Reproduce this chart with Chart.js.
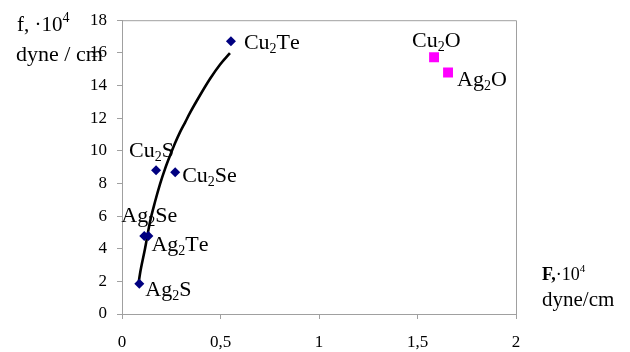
<!DOCTYPE html>
<html>
<head>
<meta charset="utf-8">
<script src="https://cdn.jsdelivr.net/npm/chart.js@4/dist/chart.umd.min.js"></script>
<style>
  html, body { margin: 0; padding: 0; background: #fff; }
  #wrap { width: 630px; height: 352px; position: relative; }
</style>
</head>
<body>
<div id="wrap"><canvas id="c" width="630" height="352"></canvas></div>
<script>
// Chalcogenide compounds: surface energy F vs. f (both ×10^4 dyne/cm)
const chalcNames = ['Ag2S', 'Ag2Se', 'Ag2Te', 'Cu2S', 'Cu2Se', 'Cu2Te'];
const chalcF     = [0.088, 0.113, 0.134, 0.173, 0.270, 0.553];
const chalcf     = [1.85, 4.78, 4.78, 8.81, 8.68, 16.71];

// Oxides
const oxideNames = ['Cu2O', 'Ag2O'];
const oxideF     = [1.584, 1.655];
const oxidef     = [15.73, 14.80];

// Trend curve through the chalcogenides
const curveF = [0.083, 0.091, 0.117, 0.142, 0.168, 0.193, 0.218, 0.244, 0.269, 0.294, 0.320, 0.345, 0.396, 0.447, 0.497, 0.548];
const curvef = [1.78, 2.44, 4.01, 5.64, 6.89, 7.96, 8.88, 9.71, 10.46, 11.13, 11.73, 12.32, 13.40, 14.41, 15.27, 15.98];

// Axis ticks
const xTicks = [0, 0.5, 1, 1.5, 2];
const xTickLabels = ['0', '0,5', '1', '1,5', '2'];
const yTicks = [0, 2, 4, 6, 8, 10, 12, 14, 16, 18];

// Label placement relative to each marker (dx, dy to text baseline)
const labelOffset = {
  Ag2S:  [6, 12],  Ag2Se: [-23, -14], Ag2Te: [3, 15],
  Cu2S:  [-27, -13], Cu2Se: [7, 10], Cu2Te: [13, 8],
  Cu2O:  [-22, -10], Ag2O: [9, 14]
};

const SERIF = '"Liberation Serif", "Times New Roman", serif';
const AXIS_GRAY = '#a0a0a0';

const toPts = (xs, ys) => xs.map((x, i) => ({ x, y: ys[i] }));

// Draw a chemical formula with digits as subscripts
function drawFormula(ctx, text, x, y, size) {
  let cx = x;
  for (const ch of text) {
    if (/[0-9]/.test(ch)) {
      ctx.font = `${Math.round(size * 0.62)}px ${SERIF}`;
      ctx.fillText(ch, cx, y + size * 0.18);
    } else {
      ctx.font = `${size}px ${SERIF}`;
      ctx.fillText(ch, cx, y);
    }
    cx += ctx.measureText(ch).width;
  }
}

// Text followed by a superscript part
function drawSup(ctx, parts, x, y) {
  let cx = x;
  for (const p of parts) {
    ctx.font = p.font;
    ctx.fillText(p.t, cx, y + (p.dy || 0));
    cx += ctx.measureText(p.t).width;
  }
}

const framePlugin = {
  id: 'frame',
  beforeDatasetsDraw(chart) {
    const { ctx, chartArea: a } = chart;
    ctx.save();
    ctx.strokeStyle = AXIS_GRAY;
    ctx.lineWidth = 1;
    ctx.beginPath();
    ctx.moveTo(a.left, a.top + 0.5);
    ctx.lineTo(a.right + 0.5, a.top + 0.5);
    ctx.lineTo(a.right + 0.5, a.bottom);
    ctx.stroke();
    ctx.restore();
  }
};

const labelPlugin = {
  id: 'formulaLabels',
  afterDatasetsDraw(chart) {
    const { ctx } = chart;
    ctx.save();
    ctx.fillStyle = '#000';
    ctx.textBaseline = 'alphabetic';
    ctx.textAlign = 'left';
    chart.data.datasets.forEach((ds, di) => {
      if (!ds.names) return;
      const meta = chart.getDatasetMeta(di);
      meta.data.forEach((el, i) => {
        const name = ds.names[i];
        const off = labelOffset[name];
        drawFormula(ctx, name, el.x + off[0], el.y + off[1], 22);
      });
    });

    // axis titles
    drawSup(ctx, [
      { t: 'f, ·10', font: `21px ${SERIF}` },
      { t: '4', font: `14px ${SERIF}`, dy: -9 }
    ], 17, 31);
    drawSup(ctx, [{ t: 'dyne / cm', font: `22px ${SERIF}` }], 16, 61);

    drawSup(ctx, [
      { t: 'F,', font: `bold 18px ${SERIF}` },
      { t: '·10', font: `18px ${SERIF}` },
      { t: '4', font: `11px ${SERIF}`, dy: -8 }
    ], 542, 280);
    drawSup(ctx, [{ t: 'dyne/cm', font: `21px ${SERIF}` }], 542, 306);
    ctx.restore();
  }
};

new Chart(document.getElementById('c'), {
  type: 'scatter',
  data: {
    datasets: [
      {
        type: 'line',
        data: toPts(curveF, curvef),
        borderColor: '#000',
        borderWidth: 2.6,
        pointRadius: 0,
        cubicInterpolationMode: 'monotone',
        fill: false,
        order: 2
      },
      {
        names: chalcNames,
        data: toPts(chalcF, chalcf),
        pointStyle: 'rectRot',
        pointRadius: 5,
        backgroundColor: '#000080',
        borderColor: '#000080',
        borderWidth: 0,
        order: 1
      },
      {
        names: oxideNames,
        data: toPts(oxideF, oxidef),
        pointStyle: 'rect',
        pointRadius: 7,
        backgroundColor: '#ff00ff',
        borderColor: '#ff00ff',
        borderWidth: 0,
        order: 1
      }
    ]
  },
  options: {
    responsive: false,
    animation: false,
    layout: { padding: { top: 11, right: 114, left: 0, bottom: 0 } },
    plugins: { legend: { display: false }, tooltip: { enabled: false } },
    scales: {
      x: {
        type: 'linear',
        min: 0, max: 2,
        afterBuildTicks(s) { s.ticks = xTicks.map(v => ({ value: v })); },
        afterFit(s) { s.height = 38; },
        ticks: {
          callback: (v) => xTickLabels[xTicks.indexOf(v)],
          color: '#000',
          font: { family: SERIF, size: 17 },
          padding: 13,
          maxRotation: 0
        },
        grid: { drawOnChartArea: false, drawTicks: true, tickLength: 5, color: AXIS_GRAY },
        border: { color: AXIS_GRAY, width: 1 }
      },
      y: {
        type: 'linear',
        min: 0, max: 18,
        afterBuildTicks(s) { s.ticks = yTicks.map(v => ({ value: v })); },
        afterFit(s) { s.width = 122; },
        ticks: {
          color: '#000',
          font: { family: SERIF, size: 17 },
          padding: 10
        },
        grid: { drawOnChartArea: false, drawTicks: true, tickLength: 5, color: AXIS_GRAY },
        border: { color: AXIS_GRAY, width: 1 }
      }
    }
  },
  plugins: [framePlugin, labelPlugin]
});
</script>
</body>
</html>
